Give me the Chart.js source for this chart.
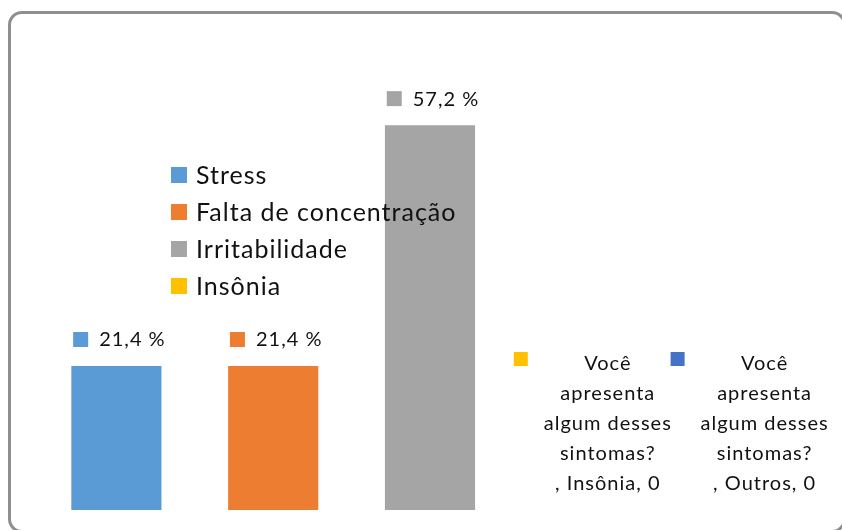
<!DOCTYPE html>
<html>
<head>
<meta charset="utf-8">
<script src="https://cdn.jsdelivr.net/npm/chart.js@4/dist/chart.umd.min.js"></script>
<style>
    html, body { margin: 0; padding: 0; background: #fff; }
    #wrap { position: relative; width: 842px; height: 530px; overflow: hidden; }
    #frame {
        position: absolute; left: 8px; top: 11px; width: 838px; height: 522px;
        box-sizing: border-box; border: 3px solid #8f8f8f; border-radius: 14px;
        pointer-events: none;
    }
</style>
</head>
<body>
<div id="wrap">
    <canvas id="sintomas-chart" width="842" height="530"></canvas>
    <div id="frame"></div>
</div>
<script>
const categories = ['Stress', 'Falta de concentração', 'Irritabilidade', 'Insônia', 'Outros'];
const values = [21.4, 21.4, 57.2, 0, 0];
const colors = ['#5B9BD5', '#ED7D31', '#A5A5A5', '#FFC000', '#4472C4'];
const seriesName = 'Você apresenta algum desses sintomas?';
const legendItems = categories.slice(0, 4);

const FONT = 'Lato, "Open Sans", sans-serif';
const TEXT_COLOR = '#111';

function wrapText(ctx, text, maxWidth) {
    var words = text.split(' ');
    var lines = [];
    var line = '';
    words.forEach(w => {
        var test = line ? line + ' ' + w : w;
        if (line && ctx.measureText(test).width > maxWidth) {
            lines.push(line);
            line = w;
        } else {
            line = test;
        }
    });
    if (line) lines.push(line);
    return lines;
}

// data labels with legend key, Excel style
const barLabels = {
    id: 'barLabels',
    afterDatasetsDraw(chart) {
        const ctx = chart.ctx;
        const meta = chart.getDatasetMeta(0);
        ctx.save();
        ctx.font = '20px ' + FONT;
        ctx.letterSpacing = '1px';
        ctx.textBaseline = 'middle';
        meta.data.forEach((bar, i) => {
            const v = values[i];
            if (v > 0) {
                const txt = v.toFixed(1).replace('.', ',') + ' %';
                const tw = ctx.measureText(txt).width;
                const total = 15 + 11 + tw;
                const sx = bar.x + 3 - total / 2;
                const cy = bar.y - 27;
                ctx.fillStyle = colors[i];
                ctx.fillRect(sx, cy - 7, 15, 15);
                ctx.fillStyle = TEXT_COLOR;
                ctx.textAlign = 'left';
                ctx.fillText(txt, sx + 26, cy + 1);
            } else {
                ctx.fillStyle = colors[i];
                ctx.fillRect(bar.x - 73, bar.y - 158, 14, 14);
                const lines = wrapText(ctx, seriesName, 135);
                lines.push(', ' + categories[i] + ', ' + String(v));
                ctx.fillStyle = TEXT_COLOR;
                ctx.textAlign = 'center';
                lines.forEach((l, k) => {
                    ctx.fillText(l, bar.x + 21, bar.y - 146 + k * 30);
                });
            }
        });
        ctx.restore();
    }
};

// legend drawn over the plot area
const overlayLegend = {
    id: 'overlayLegend',
    afterDraw(chart) {
        const ctx = chart.ctx;
        ctx.save();
        ctx.font = '25px ' + FONT;
        ctx.letterSpacing = '1px';
        ctx.textBaseline = 'middle';
        ctx.textAlign = 'left';
        legendItems.forEach((name, i) => {
            const cy = 175 + i * 37;
            ctx.fillStyle = colors[i];
            ctx.fillRect(171, cy - 8, 16, 16);
            ctx.fillStyle = TEXT_COLOR;
            ctx.fillText(name, 196, cy + 1);
        });
        ctx.restore();
    }
};

new Chart(document.getElementById('sintomas-chart').getContext('2d'), {
    type: 'bar',
    data: {
        labels: categories,
        datasets: [{
            label: seriesName,
            data: values,
            backgroundColor: colors,
            borderWidth: 0,
            barPercentage: 0.575,
            categoryPercentage: 1
        }]
    },
    options: {
        responsive: false,
        animation: false,
        layout: { padding: { left: 38, right: 20, top: 39, bottom: 20 } },
        plugins: {
            legend: { display: false },
            tooltip: { enabled: false }
        },
        scales: {
            x: { display: false },
            y: { display: false, min: 0, max: 70 }
        }
    },
    plugins: [barLabels, overlayLegend]
});
</script>
</body>
</html>
